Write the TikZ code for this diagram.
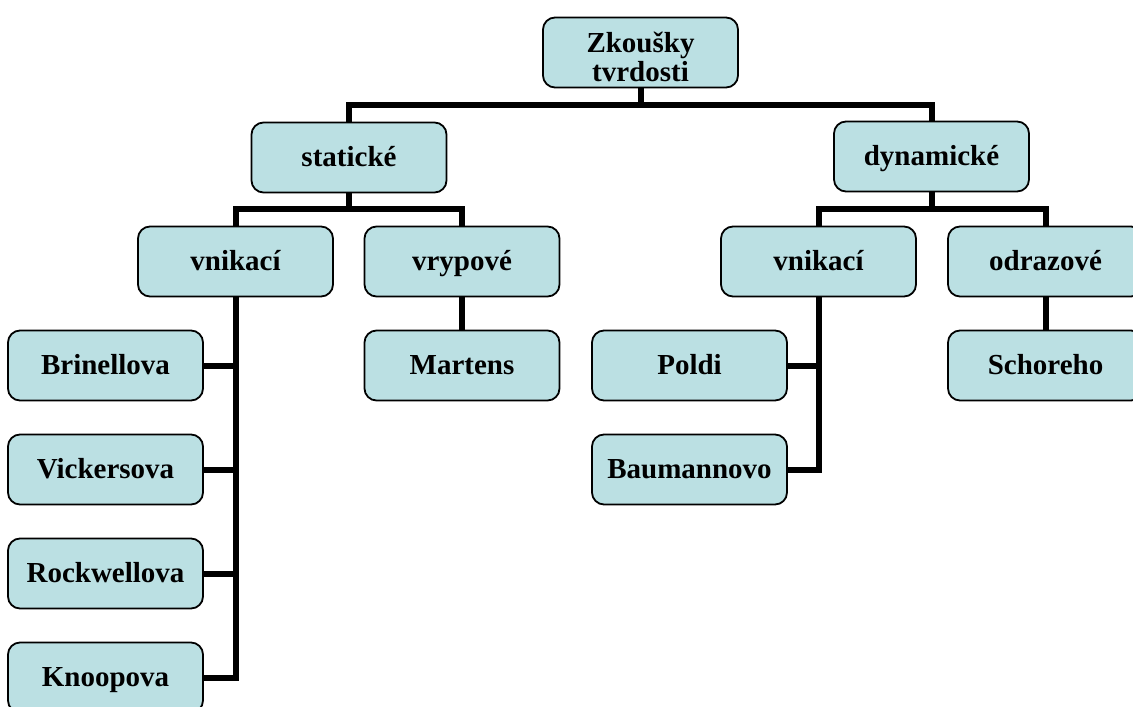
\documentclass[tikz,border=0pt]{standalone}
\usepackage{fontspec}
\setmainfont{Liberation Serif}
\definecolor{boxfill}{RGB}{187,224,227}

\begin{document}
\begin{tikzpicture}[x=0.5pt,y=-0.5pt]
    \pgfmathsetmacro{\boxwidth}{97.5}
    \pgfmathsetmacro{\boxheight}{35}
    \pgfmathsetmacro{\linkwidth}{3}
    \providecommand{\boxfontsize}{\fontsize{14.5pt}{14.5pt}\selectfont}
    \tikzset{
        card/.style={draw,fill=boxfill,line width=0.9pt,rounded corners=6pt,minimum width=\boxwidth pt,minimum height=\boxheight pt,inner sep=0,font=\boxfontsize\bfseries,text height=11pt,text depth=2.5pt},
        link/.style={line width=\linkwidth pt}
    }
    \useasboundingbox (0,0) rectangle (1133,706);
    \clip (0,0) rectangle (1133,706);
    % top two levels
    \node[card,align=center,text height=31pt,text depth=1.5pt] (root) at (640.5,52.5) {Zkoušky\\tvrdosti};
    \node[card] (static) at (349,157.5) {statické};
    \node[card] (dynamic) at (931.5,156.5) {dynamické};
    \node[card] (vnikL) at (235.5,261.5) {vnikací};
    \node[card] (vryp) at (462,261.5) {vrypové};
    \node[card] (vnikR) at (818.5,261.5) {vnikací};
    \node[card] (odraz) at (1045.5,261.5) {odrazové};
    % methods
    \node[card] (brin) at (105.5,365.5) {Brinellova};
    \node[card] (vick) at (105.5,469.5) {Vickersova};
    \node[card] (rock) at (105.5,573.5) {Rockwellova};
    \node[card] (knoop) at (105.5,677.5) {Knoopova};
    \node[card] (mart) at (462,365.5) {Martens};
    \node[card] (poldi) at (689.5,365.5) {Poldi};
    \node[card] (baum) at (689.5,469.5) {Baumannovo};
    \node[card] (schor) at (1045.5,365.5) {Schoreho};
    \coordinate (topfork) at (640.5,105);
    \coordinate (leftfork) at (349,209);
    \coordinate (rightfork) at (931.5,209);
    \draw[link] (root.south) -- (topfork);
    \draw[link] (static.north) |- (topfork) -| (dynamic.north);
    \draw[link] (static.south) -- (leftfork);
    \draw[link] (vnikL.north) |- (leftfork) -| (vryp.north);
    \draw[link] (dynamic.south) -- (rightfork);
    \draw[link] (vnikR.north) |- (rightfork) -| (odraz.north);
    \draw[link] (vryp.south) -- (mart.north);
    \draw[link] (odraz.south) -- (schor.north);
    \draw[link] (vnikL.south) |- (knoop.east);
    \foreach \n in {brin,vick,rock}
        \draw[link] (\n.east) -- (\n.east -| vnikL.south);
    \draw[link] (vnikR.south) |- (baum.east);
    \draw[link] (poldi.east) -- (poldi.east -| vnikR.south);
\end{tikzpicture}
\end{document}
